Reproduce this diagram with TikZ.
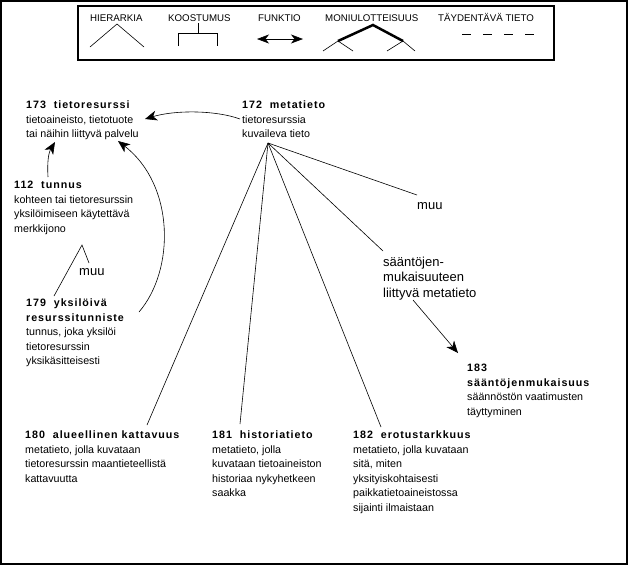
\documentclass[tikz,border=0pt]{standalone}
\usepackage{fontspec}
\setmainfont{Liberation Sans}
\newfontfamily\ttlfont[LetterSpace=9]{Liberation Sans}
\usetikzlibrary{arrows.meta}
\newcommand{\ttl}[1]{{\ttlfont\bfseries #1}}
\tikzset{
  txt/.style={anchor=north west, inner sep=0pt, align=left, font=\fontsize{10.7}{14.5}\selectfont},
  big/.style={anchor=north west, inner sep=0pt, align=left, font=\fontsize{13}{15.5}\selectfont},
  lab/.style={anchor=base west, inner sep=0pt, font=\fontsize{13}{15.5}\selectfont},
  leg/.style={anchor=base west, inner sep=0pt, font=\fontsize{9.7}{12}\selectfont},
  conn/.style={line width=0.6pt},
  arr/.style={line width=0.6pt, -{Stealth[length=12pt,width=10pt,inset=3.5pt]}},
  frame/.style={line width=1.5pt},
}
\begin{document}
\begin{tikzpicture}[x=1pt,y=-1pt]
\useasboundingbox (0,0) rectangle (629,566);
% outer frame and legend box
\draw[frame] (1,1) rectangle (627,564);
\draw[frame] (78,6) rectangle (554,60);
% legend labels
\node[leg] (lh) at (90,21) {HIERARKIA};
\node[leg] (lk) at (168,21) {KOOSTUMUS};
\node[leg] (lf) at (258,21) {FUNKTIO};
\node[leg] (lm) at (325,21) {MONIULOTTEISUUS};
\node[leg] (lt) at (438,21) {TÄYDENTÄVÄ TIETO};
% legend symbols
\draw[conn] (90,47) -- (117,24) -- (144,47);
\draw[conn] (198,23) -- (198,33);
\draw[conn] (178,46) -- (178,33) -- (217,33) -- (217,46);
\draw[line width=0.6pt, {Stealth[length=12pt,width=9pt,inset=3.5pt]}-{Stealth[length=12pt,width=9pt,inset=3.5pt]}] (257,39) -- (303,39);
\draw[line width=2.5pt] (338,41) -- (373,25) -- (403,41);
\draw[conn] (323,51) -- (338,41) -- (353,51);
\draw[conn] (387,51) -- (403,41) -- (415,51);
\draw[conn, dash pattern=on 9pt off 12pt] (462,34) -- (536,34);
% main nodes
\node[txt] (n173) at (26,101) {\ttl{173\ \ tietoresurssi}\\ tietoaineisto, tietotuote\\ tai näihin liittyvä palvelu};
\node[txt] (n172) at (242,101) {\ttl{172\ \ metatieto}\\ tietoresurssia\\ kuvaileva tieto};
\node[txt] (n112) at (14,181) {\ttl{112\ \ tunnus}\\ kohteen tai tietoresurssin\\ yksilöimiseen käytettävä\\ merkkijono};
\node[txt] (n179) at (26,299) {\ttl{179\ \ yksilöivä}\\ \ttl{resurssitunniste}\\ tunnus, joka yksilöi\\ tietoresurssin\\ yksikäsitteisesti};
\node[txt] (n183) at (467,364) {\ttl{183}\\ \ttl{sääntöjenmukaisuus}\\ säännöstön vaatimusten\\ täyttyminen};
\node[txt] (n180) at (25,431) {\ttl{180\ \ alueellinen kattavuus}\\ metatieto, jolla kuvataan\\ tietoresurssin maantieteellistä\\ kattavuutta};
\node[txt] (n181) at (212,431) {\ttl{181\ \ historiatieto}\\ metatieto, jolla\\ kuvataan tietoaineiston\\ historiaa nykyhetkeen\\ saakka};
\node[txt] (n182) at (353,431) {\ttl{182\ \ erotustarkkuus}\\ metatieto, jolla kuvataan\\ sitä, miten\\ yksityiskohtaisesti\\ paikkatietoaineistossa\\ sijainti ilmaistaan};
\node[big] (nsm) at (383,256.5) {sääntöjen-\\ mukaisuuteen\\ liittyvä metatieto};
\node[lab] (muuA) at (79,275.5) {muu};
\node[lab] (muuB) at (417,209.5) {muu};
% connector end points
\coordinate (apex) at (268,143);
\coordinate (eMuuB) at (417,195);
\coordinate (eSm) at (383,251);
\coordinate (e182) at (381,427);
\coordinate (e181) at (240,424);
\coordinate (e180) at (147,425);
\coordinate (apexB) at (82,245);
\coordinate (e179) at (54,296);
\coordinate (eMuuA) at (89,263);
\coordinate (s172) at (240,119);
\coordinate (t173a) at (145,119);
\coordinate (t173b) at (118,141);
\coordinate (t173c) at (55,142);
\coordinate (s179) at (139,312);
\coordinate (s112) at (48,177);
\coordinate (sSm) at (413,300);
\coordinate (t183) at (458,353);
% hierarchy from 172
\draw[conn] (apex) -- (eMuuB);
\draw[conn] (apex) -- (eSm);
\draw[conn] (apex) -- (e182);
\draw[conn] (apex) -- (e181);
\draw[conn] (apex) -- (e180);
% hierarchy 112 -> 179 / muu
\draw[conn] (e179) -- (apexB) -- (eMuuA);
% function arrows
\draw[arr] (s172) .. controls (215,110) and (175,110) .. (t173a);
\draw[arr] (s179) .. controls (175,270) and (175,185) .. (t173b);
\draw[arr] (s112) .. controls (47,160) and (49,152) .. (t173c);
\draw[arr] (sSm) -- (t183);
\end{tikzpicture}
\end{document}
